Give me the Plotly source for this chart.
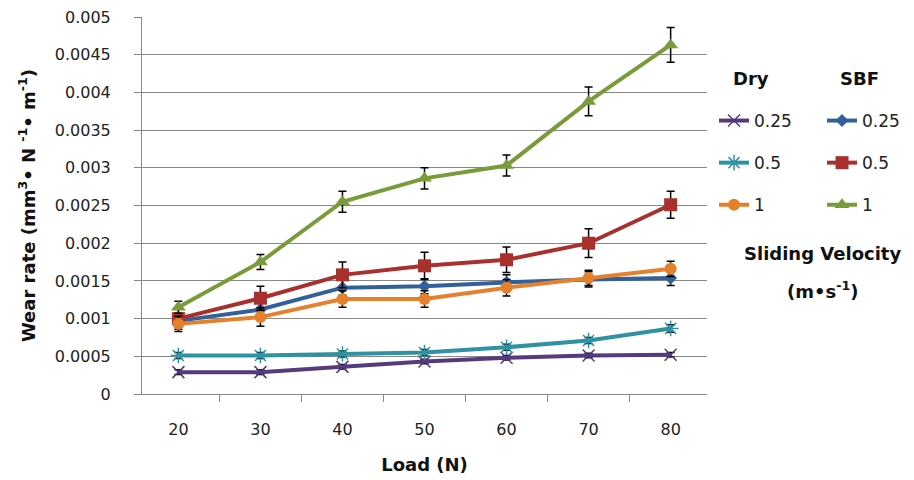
import plotly.graph_objects as go

# ---------------- data ----------------
loads = ["20", "30", "40", "50", "60", "70", "80"]

dry_025 = [0.00029, 0.00029, 0.00036, 0.00043, 0.00048, 0.00051, 0.00052]
dry_05 = [0.00051, 0.00051, 0.00053, 0.00055, 0.00062, 0.00071, 0.00087]
dry_1 = [0.00093, 0.00102, 0.00126, 0.00126, 0.00141, 0.00154, 0.00166]
sbf_025 = [0.00097, 0.00112, 0.00141, 0.00143, 0.00148, 0.00152, 0.00154]
sbf_05 = [0.00100, 0.00127, 0.00158, 0.00170, 0.00178, 0.00200, 0.00251]
sbf_1 = [0.00115, 0.00175, 0.00255, 0.00286, 0.00303, 0.00388, 0.00463]

err_dry_025 = [0.00003, 0.00003, 0.00003, 0.00003, 0.00003, 0.00003, 0.00003]
err_dry_05 = [0.00004, 0.00004, 0.00004, 0.00004, 0.00004, 0.00004, 0.00005]
err_dry_1 = [0.00010, 0.00012, 0.00011, 0.00011, 0.00011, 0.00010, 0.00010]
err_sbf_025 = [0.00008, 0.00010, 0.00010, 0.00010, 0.00010, 0.00010, 0.00010]
err_sbf_05 = [0.00014, 0.00016, 0.00017, 0.00018, 0.00017, 0.00019, 0.00018]
err_sbf_1 = [0.00008, 0.00010, 0.00014, 0.00014, 0.00014, 0.00019, 0.00023]

legend_names = ["0.25", "0.5", "1"]

y_tick_vals = [0, 0.0005, 0.001, 0.0015, 0.002, 0.0025, 0.003, 0.0035, 0.004, 0.0045, 0.005]
y_tick_text = ["0", "0.0005", "0.001", "0.0015", "0.002", "0.0025", "0.003",
               "0.0035", "0.004", "0.0045", "0.005"]

# ---------------- styling ----------------
FONT = "DejaVu Sans"
W, H = 914, 480
ML, MR, MT, MB = 142, 207, 17, 86
PW = W - ML - MR
PH = H - MT - MB


def px_x(px):
    return (px - ML) / PW


def px_y(py):
    return (H - MB - py) / PH


fig = go.Figure()


def add(name, y, err, color, symbol, size, legend, group, mline=None):
    marker = dict(symbol=symbol, size=size, color=color)
    if mline is not None:
        marker["line"] = mline
    fig.add_trace(go.Scatter(
        x=loads, y=y, name=name, mode="lines+markers",
        line=dict(color=color, width=4),
        marker=marker,
        error_y=dict(type="data", array=err, visible=True,
                     color="black", thickness=1.5, width=4),
        legend=legend, legendgroup=group,
    ))


# SBF drawn first (Dry on top)
add(legend_names[0], sbf_025, err_sbf_025, "#31609B", "diamond", 10, "legend2", "s1")
add(legend_names[1], sbf_05, err_sbf_05, "#A8302D", "square", 13, "legend2", "s2")
add(legend_names[2], sbf_1, err_sbf_1, "#7A9B3A", "triangle-up", 13, "legend2", "s3")
add(legend_names[0], dry_025, err_dry_025, "#563A7E", "x-thin", 12, "legend", "d1",
    mline=dict(color="#563A7E", width=1.5))
add(legend_names[1], dry_05, err_dry_05, "#2E92A3", "asterisk", 13, "legend", "d2",
    mline=dict(color="#2E92A3", width=1.5))
add(legend_names[2], dry_1, err_dry_1, "#E5812D", "circle", 12, "legend", "d3")

legend_common = dict(
    font=dict(family=FONT, size=17, color="#222222"),
    bgcolor="rgba(255,255,255,0)",
    tracegroupgap=17,
    traceorder="grouped",
    yanchor="top", xanchor="left",
    itemclick=False,
)

BOLD = dict(family=FONT, size=18, color="#111111")

fig.update_layout(
    width=W, height=H,
    margin=dict(l=ML, r=MR, t=MT, b=MB, autoexpand=False),
    paper_bgcolor="white", plot_bgcolor="white",
    font=dict(family=FONT, size=16, color="#222222"),
    legend=dict(x=px_x(714), y=px_y(103), **legend_common),
    legend2=dict(x=px_x(822), y=px_y(103), **legend_common),
    xaxis=dict(
        type="category",
        automargin=False,
        title=dict(text="<b>Load (N)</b>", font=BOLD, standoff=20),
        showgrid=False,
        showline=True, linecolor="#888888", linewidth=1,
        ticks="outside", tickson="boundaries", ticklen=7, tickcolor="#888888",
        tickfont=dict(family=FONT, size=16, color="#222222"),
        ticklabelstandoff=21,
    ),
    yaxis=dict(
        range=[0, 0.005],
        automargin=False,
        tickvals=y_tick_vals, ticktext=y_tick_text,
        title=dict(text="<b>Wear rate (mm<sup>3</sup>• N <sup>-1</sup>• m<sup>-1</sup>)</b>",
                   font=BOLD, standoff=14),
        showgrid=True, gridcolor="#888888", gridwidth=1,
        showline=True, linecolor="#888888", linewidth=1,
        ticks="outside", ticklen=7, tickcolor="#888888",
        tickfont=dict(family=FONT, size=16, color="#222222"),
        ticklabelstandoff=20,
        zeroline=False,
    ),
    annotations=[
        dict(text="<b>Dry</b>", xref="paper", yref="paper",
             x=px_x(751), y=px_y(78), xanchor="center", yanchor="middle",
             showarrow=False, font=BOLD),
        dict(text="<b>SBF</b>", xref="paper", yref="paper",
             x=px_x(859), y=px_y(78), xanchor="center", yanchor="middle",
             showarrow=False, font=BOLD),
        dict(text="<b>Sliding Velocity</b>", xref="paper", yref="paper",
             x=px_x(822), y=px_y(253), xanchor="center", yanchor="middle",
             showarrow=False, font=BOLD),
        dict(text="<b>(m•s<sup>-1</sup>)</b>", xref="paper", yref="paper",
             x=px_x(822), y=px_y(290), xanchor="center", yanchor="middle",
             showarrow=False, font=BOLD),
    ],
)

fig.write_html("out.html",
               config={"displayModeBar": False},
               post_script="document.body.style.margin='0';"
                           "document.body.style.overflow='hidden';")
